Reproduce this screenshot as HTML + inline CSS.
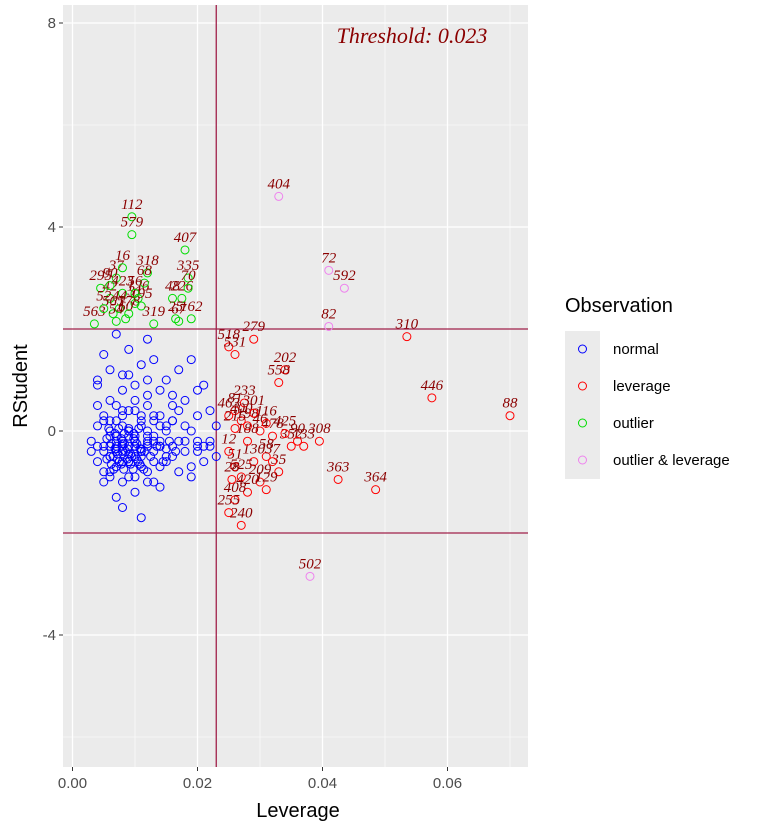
<!DOCTYPE html>
<html><head><meta charset="utf-8"><style>
body{margin:0;background:#fff;}
svg text{font-family:"Liberation Sans",sans-serif;}
</style></head><body>
<svg id="chart" width="765" height="826" xmlns="http://www.w3.org/2000/svg">
<rect x="63" y="5" width="465" height="762" fill="#EBEBEB"/>
<g id="grid"></g>
<g id="marks"></g>
<g id="axes"></g>
<text x="412" y="43" text-anchor="middle" font-style="italic" font-size="22" fill="#8B0000" style="font-family:'Liberation Serif',serif">Threshold: 0.023</text>
<text x="298" y="817" text-anchor="middle" font-size="20" fill="#000">Leverage</text>
<text transform="translate(27,386) rotate(-90)" text-anchor="middle" font-size="20" fill="#000">RStudent</text>
<g>
<text x="565" y="312" font-size="20" fill="#000">Observation</text>
<g id="legend"></g>
</g>
</svg>
<script>
const xTicks=[0,0.02,0.04,0.06];
const xTickLabels=["0.00","0.02","0.04","0.06"];
const xMinor=[0.01,0.03,0.05,0.07];
const yTicks=[-4,0,4,8];
const yTickLabels=["-4","0","4","8"];
const yMinor=[-6,-2,2,6];
const threshold=0.023;
const cutoffs=[-2,2];
const normalX=[0.003,0.004,0.004,0.005,0.005,0.005,0.006,0.006,0.006,0.006,0.007,0.007,0.007,0.007,0.007,0.008,0.008,0.008,0.008,0.008,0.009,0.009,0.009,0.009,0.009,0.010,0.010,0.010,0.010,0.010,0.011,0.011,0.011,0.011,0.012,0.012,0.012,0.012,0.013,0.013,0.013,0.014,0.014,0.014,0.015,0.015,0.016,0.016,0.017,0.017,0.018,0.018,0.019,0.019,0.020,0.020,0.021,0.021,0.022,0.022,0.023,0.023,
0.003,0.004,0.005,0.006,0.007,0.008,0.009,0.010,0.011,0.012,0.013,0.014,0.015,0.016,0.017,0.018,0.019,0.020,0.004,0.005,0.006,0.007,0.008,0.009,0.010,0.011,0.012,0.013,0.014,0.015,0.016,0.018,0.020,0.022,
0.005,0.006,0.007,0.008,0.009,0.010,0.011,0.012,0.013,0.014,0.004,0.006,0.008,0.010,0.012,0.014,0.016,0.006,0.007,0.008,0.009,0.010,0.011,0.012,0.005,0.007,0.009,0.011,0.013,0.015,0.017,0.019,0.021,0.004,0.008,0.012,0.016,0.020,0.0065,0.0075,0.0085,0.0095,0.0105,0.0115,0.0125,0.0135,0.0145,0.0155,0.0165,
0.0055,0.0062,0.0068,0.0072,0.0078,0.0083,0.0088,0.0093,0.0098,0.0103,0.0108,0.0055,0.0062,0.0068,0.0072,0.0078,0.0083,0.0088,0.0093,0.0098,0.0103,0.0108,0.0058,0.0066,0.0074,0.0082,0.0090,0.0097,0.0106,0.0114,0.0060,0.0070,0.0080,0.0090,0.0100,0.0110,0.0120,0.0130,0.0140,0.0150];
const normalY=[-0.4,-0.6,0.9,-0.3,1.5,-1.0,-0.5,0.2,-0.8,1.2,-0.4,-1.3,0.5,-0.1,1.9,-0.6,-0.2,0.8,-1.5,0.3,-0.3,1.1,-0.9,0.0,1.6,-0.5,0.4,-1.2,0.9,-0.2,-0.4,1.3,-1.7,0.1,-0.3,0.7,-1.0,1.8,-0.6,0.3,1.4,-0.2,-1.1,0.8,-0.5,1.0,-0.3,0.5,-0.8,1.2,-0.2,0.6,-0.9,1.4,-0.4,0.3,-0.6,0.9,-0.2,0.4,-0.5,0.1,
-0.2,-0.3,-0.4,-0.5,-0.3,-0.4,-0.6,-0.3,-0.5,-0.2,-0.4,-0.3,-0.6,-0.5,-0.2,-0.4,-0.7,-0.3,0.1,0.2,0.0,-0.1,0.1,0.0,-0.1,0.2,0.0,-0.1,0.1,0.0,0.2,0.1,-0.2,-0.3,
-0.8,-0.9,-0.7,-1.0,-0.6,-0.9,-0.7,-0.8,-1.0,-0.7,0.5,0.6,0.4,0.6,0.5,0.3,0.2,-0.1,-0.2,-0.3,-0.1,-0.2,-0.4,-0.1,0.3,0.2,0.4,0.3,0.2,0.1,0.4,0.0,-0.3,1.0,1.1,1.0,0.7,0.8,-0.5,-0.6,-0.4,-0.5,-0.6,-0.4,-0.5,-0.3,-0.6,-0.2,-0.4,
-0.15,-0.25,-0.35,-0.45,-0.15,-0.25,-0.35,-0.45,-0.15,-0.25,-0.35,-0.55,-0.65,-0.05,-0.55,-0.65,-0.05,-0.55,-0.65,-0.05,-0.55,-0.65,0.05,-0.75,0.05,-0.75,0.05,-0.75,0.05,-0.75,-0.3,-0.35,-0.25,-0.45,-0.3,-0.35,-0.25,-0.2,-0.3,-0.35];
const leverageX=[0.0535,0.0575,0.070,0.0425,0.0485,0.0395,0.029,0.034,0.033,0.025,0.026,0.0275,0.026,0.025,0.027,0.028,0.030,0.032,0.035,0.037,0.031,0.029,0.026,0.025,0.027,0.030,0.033,0.028,0.026,0.031,0.025,0.027,0.032,0.026,0.028,0.0255,0.029,0.031,0.034,0.036];
const leverageY=[1.85,0.65,0.3,-0.95,-1.15,-0.2,1.8,1.2,0.95,1.65,1.5,0.55,0.4,0.3,0.2,0.1,0.0,-0.1,-0.3,-0.3,-0.5,-0.6,-0.7,-0.4,-0.9,-1.0,-0.8,-1.2,-1.35,-1.15,-1.6,-1.85,-0.6,0.05,-0.2,-0.95,0.35,0.15,-0.05,-0.2];
const leverageLab=["310","446","88","363","364","308","279","202","558","518","531","233","81","463","400","198","46","478","352","133","58","130","51","12","525","209","35","420","408","129","255","240","37","215","188","28","301","116","425","90"];
const outlierX=[0.0095,0.0095,0.018,0.0185,0.0175,0.007,0.0045,0.006,0.008,0.010,0.012,0.0065,0.0075,0.0085,0.0105,0.0115,0.0035,0.005,0.007,0.009,0.011,0.016,0.017,0.019,0.006,0.008,0.013,0.0185,0.010,0.0165];
const outlierY=[4.2,3.85,3.55,3.0,2.6,3.0,2.8,2.6,2.7,2.5,3.1,2.3,2.4,2.2,2.6,2.9,2.1,2.4,2.15,2.3,2.45,2.6,2.15,2.2,2.85,3.2,2.1,2.8,2.7,2.2];
const outlierLab=["112","579","407","335","226","37","295","42","423","31","318","565","44","60","126","68","563","52","54","178","195","48","67","162","90","16","319","70","56","25"];
const bothX=[0.033,0.041,0.0435,0.041,0.038];
const bothY=[4.6,3.15,2.8,2.05,-2.85];
const bothLab=["404","72","592","82","502"];

const x0=72.5, xs=6250, y0=431, ys=51;
const X=v=>x0+v*xs, Y=v=>y0-v*ys;
const NS="http://www.w3.org/2000/svg";
function mk(tag,attrs,parent){const e=document.createElementNS(NS,tag);for(const k in attrs)e.setAttribute(k,attrs[k]);parent.appendChild(e);return e;}
const grid=document.getElementById('grid'),axes=document.getElementById('axes'),marks=document.getElementById('marks');
xMinor.forEach(v=>{const l=mk('line',{x1:X(v),x2:X(v),y1:5,y2:767,stroke:'#fff','stroke-width':0.6},grid);

});
yMinor.forEach(v=>{const l=mk('line',{x1:63,x2:528,y1:Y(v),y2:Y(v),stroke:'#fff','stroke-width':0.6},grid);

});
xTicks.forEach((v,i)=>{const l=mk('line',{x1:X(v),x2:X(v),y1:5,y2:767,stroke:'#fff','stroke-width':1.3},grid);


mk('line',{x1:X(v),x2:X(v),y1:767,y2:771,stroke:'#333'},axes);
const t=mk('text',{x:X(v),y:788,'text-anchor':'middle','font-size':15,fill:'#4D4D4D'},axes);t.textContent=xTickLabels[i];

});
yTicks.forEach((v,i)=>{const l=mk('line',{x1:63,x2:528,y1:Y(v),y2:Y(v),stroke:'#fff','stroke-width':1.3},grid);


mk('line',{x1:59,x2:63,y1:Y(v),y2:Y(v),stroke:'#333'},axes);
const t=mk('text',{x:56,y:Y(v)+5,'text-anchor':'end','font-size':15,fill:'#4D4D4D'},axes);t.textContent=yTickLabels[i];

});
const tl=mk('line',{x1:X(threshold),x2:X(threshold),y1:5,y2:767,stroke:'#A0204A','stroke-width':1.3},marks);


cutoffs.forEach(v=>{const l=mk('line',{x1:63,x2:528,y1:Y(v),y2:Y(v),stroke:'#A0204A','stroke-width':1.3},marks);

});
function series(xsArr,ysArr,labs,color,name){
 xsArr.forEach((v,i)=>{const c=mk('circle',{cx:X(v),cy:Y(ysArr[i]),r:4,fill:'none',stroke:color,'stroke-width':1},marks);
 
 
 if(labs){const t=mk('text',{x:X(v),y:Y(ysArr[i])-8,'text-anchor':'middle','font-size':15,'font-style':'italic',fill:'#8B0000',style:"font-family:'Liberation Serif',serif"},marks);t.textContent=labs[i];
 
 }});
}
series(normalX,normalY,null,'#0000FF','normal');
series(leverageX,leverageY,leverageLab,'#FF0000','leverage');
series(outlierX,outlierY,outlierLab,'#00DD00','outlier');
series(bothX,bothY,bothLab,'#EE82EE','outlier-leverage');
const leg=document.getElementById('legend');
const legNames=["normal","leverage","outlier","outlier & leverage"],legCols=['#0000FF','#FF0000','#00DD00','#EE82EE'];
legNames.forEach((n,i)=>{const y=349+i*37;
 mk('rect',{x:565,y:y-18,width:35,height:37,fill:'#EBEBEB'},leg);
 const c=mk('circle',{cx:582.5,cy:y,r:4,fill:'none',stroke:legCols[i]},leg);
 
 
 const t=mk('text',{x:613,y:y+5,'font-size':15,fill:'#000'},leg);t.textContent=n;
 
 });
</script>
</body></html>
